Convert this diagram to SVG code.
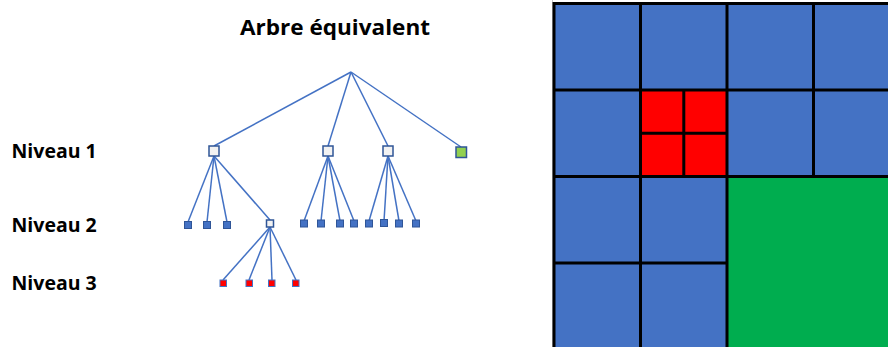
<svg xmlns="http://www.w3.org/2000/svg" width="888" height="347" viewBox="0 0 888 347">
<style>
.t{font-family:"Open Sans","Liberation Sans",sans-serif;font-weight:bold;fill:#000}
.e{stroke:#4472C4;stroke-width:1.5;fill:none}
.w{fill:#F2F2F2;stroke:#2F5597;stroke-width:1.5}
.b{fill:#4472C4;stroke:#2F5597;stroke-width:1}
.r{fill:#FF0000;stroke:#4472C4;stroke-width:1}
.g{fill:#92D050;stroke:#2F5597;stroke-width:1.5}
.gl{stroke:#000;stroke-width:3;fill:none}
</style>
<rect width="888" height="347" fill="#fff"/>
<text class="t" x="240" y="35" font-size="22" textLength="190" lengthAdjust="spacingAndGlyphs">Arbre équivalent</text>
<text class="t" x="11.5" y="157.5" font-size="19.5">Niveau 1</text>
<text class="t" x="11.5" y="231.5" font-size="19.5">Niveau 2</text>
<text class="t" x="11.5" y="290" font-size="19.5">Niveau 3</text>
<g id="connectors" class="e">
<line x1="351" y1="72" x2="214" y2="146"/>
<line x1="351" y1="72" x2="328" y2="146"/>
<line x1="351" y1="72" x2="388" y2="146"/>
<line x1="351" y1="72" x2="461" y2="147"/>
<line x1="214" y1="156" x2="188" y2="222"/>
<line x1="214" y1="156" x2="207" y2="222"/>
<line x1="214" y1="156" x2="227" y2="222"/>
<line x1="214" y1="156" x2="270" y2="220"/>
<line x1="328" y1="156" x2="304" y2="221"/>
<line x1="328" y1="156" x2="321" y2="221"/>
<line x1="328" y1="156" x2="340" y2="221"/>
<line x1="328" y1="156" x2="354" y2="221"/>
<line x1="388" y1="156" x2="369" y2="221"/>
<line x1="388" y1="156" x2="384" y2="221"/>
<line x1="388" y1="156" x2="399" y2="221"/>
<line x1="388" y1="156" x2="416" y2="221"/>
<line x1="270" y1="227" x2="223" y2="280"/>
<line x1="270" y1="227" x2="249" y2="280"/>
<line x1="270" y1="227" x2="272" y2="280"/>
<line x1="270" y1="227" x2="296" y2="280"/>
</g>
<g id="n1a"><rect class="w" x="209" y="146" width="10" height="10"/></g>
<g id="n1b"><rect class="w" x="323" y="146" width="10" height="10"/></g>
<g id="n1c"><rect class="w" x="383" y="146" width="10" height="10"/></g>
<g id="n1d"><rect class="g" x="456" y="147" width="10.5" height="10.5"/></g>
<g id="n2a"><rect class="b" x="184.5" y="221.5" width="7" height="7"/></g>
<g id="n2b"><rect class="b" x="203.5" y="221.5" width="7" height="7"/></g>
<g id="n2c"><rect class="b" x="223.5" y="221.5" width="7" height="7"/></g>
<g id="n2d"><rect class="w" x="266.5" y="220" width="7" height="7" stroke-width="1"/></g>
<g id="n2e"><rect class="b" x="300.5" y="220" width="7" height="7"/></g>
<g id="n2f"><rect class="b" x="317.5" y="220" width="7" height="7"/></g>
<g id="n2g"><rect class="b" x="336.5" y="220" width="7" height="7"/></g>
<g id="n2h"><rect class="b" x="350.5" y="220" width="7" height="7"/></g>
<g id="n2i"><rect class="b" x="365.5" y="220" width="7" height="7"/></g>
<g id="n2j"><rect class="b" x="380.5" y="219.5" width="7" height="7"/></g>
<g id="n2k"><rect class="b" x="395.5" y="220" width="7" height="7"/></g>
<g id="n2l"><rect class="b" x="412.5" y="220" width="7" height="7"/></g>
<g id="n3a"><rect class="r" x="220" y="280" width="6.5" height="6.5"/></g>
<g id="n3b"><rect class="r" x="246" y="280" width="6.5" height="6.5"/></g>
<g id="n3c"><rect class="r" x="268.5" y="280" width="6.5" height="6.5"/></g>
<g id="n3d"><rect class="r" x="292.5" y="280" width="6.5" height="6.5"/></g>
<g id="grid">
<rect x="554" y="3.5" width="350" height="350" fill="#4472C4"/>
<rect x="640.5" y="90" width="86.5" height="86.5" fill="#FF0000"/>
<rect x="727" y="176.5" width="173" height="173" fill="#00AD4F"/>
<line x1="552.5" y1="0" x2="552.5" y2="347" stroke="#C8C8C8" stroke-width="1"/>
<path class="gl" d="M554 3.5H890M554 90H890M554 176.5H890M554 263H727M640.5 133.3H727M554 2V347M640.5 3.5V347M727 3.5V347M813.5 3.5V176.5M683.8 90V176.5"/>
</g>
</svg>
